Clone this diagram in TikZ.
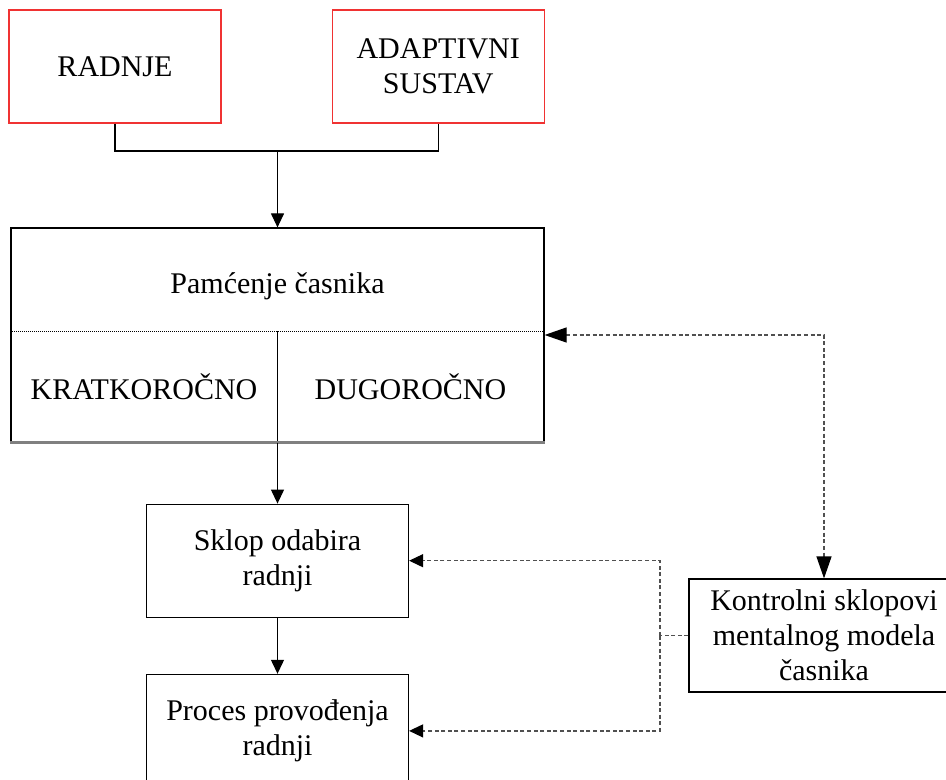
\documentclass[tikz,border=0pt]{standalone}
\usepackage{fontspec}
\setmainfont{Liberation Serif}
\usetikzlibrary{positioning,arrows.meta}
\definecolor{boxred}{RGB}{240,50,50}
\definecolor{linegray}{RGB}{80,80,80}

\begin{document}
\begin{tikzpicture}[x=0.5pt,y=-0.5pt,
    >={Triangle[length=7pt,width=6.5pt,color=black]},
    every node/.style={font=\fontsize{15}{17.5}\selectfont},
    block/.style={draw,line width=0.6pt,align=center,minimum height=56.5pt,inner sep=0pt},
    topblock/.style={block,draw=boxred,minimum width=106pt},
    link/.style={->,line width=0.6pt},
    ctrl/.style={line width=0.6pt,draw=linegray,dash pattern=on 2pt off 1.3pt},
    bigtip/.style={>={Triangle[length=11pt,width=7.5pt,color=black]}}]

	\useasboundingbox (0,0) rectangle (946,780);
	\clip (0,0) rectangle (946,780);

	% inputs
	\node[topblock] (radnje) at (115,66.5) {RADNJE};
	\node[topblock] (adapt) [right=55pt of radnje] {ADAPTIVNI\\SUSTAV};
	\coordinate (join) at (277.5,151);

	% memory
	\node[block,minimum width=266.5pt,minimum height=107pt] (mem) at (277.5,335) {};
	\node (memtitle) at (277.5,286) {Pamćenje časnika};
	\node (kratko) at (144,387) {KRATKOROČNO};
	\node (dugo) at (410.5,387) {DUGOROČNO};
	\coordinate (memsplit) at (277.5,331);

	% chain below
	\node[block,minimum width=131pt] (sklop) [below=30.5pt of mem] {Sklop odabira\\radnji};
	\node[block,minimum width=131pt] (proces) [below=28pt of sklop] {Proces provođenja\\radnji};
	\node[block,minimum width=135pt] (kontr) at (824,635.5) {Kontrolni sklopovi\\mentalnog modela\\časnika};
	\coordinate (fork) at (660,635.5);

	\draw[line width=0.6pt] (radnje.south) |- (join) -| (adapt.south);
	\draw[link] (join) -- (mem.north);

	\draw[line width=0.5pt,dash pattern=on 0.5pt off 0.5pt] (mem.west |- memsplit) -- (mem.east |- memsplit);
	\draw[line width=0.5pt] (memsplit) -- (mem.south);
	\draw[gray,line width=1.2pt] (mem.south west) -- (mem.south east);

	\draw[link] (mem.south) -- (sklop.north);
	\draw[link] (sklop) -- (proces);

	\draw[ctrl,bigtip,<->] (mem.east) -| (kontr.north);
	\draw[ctrl] (kontr.west) -- (fork);
	\draw[ctrl,->] (fork) |- (sklop.east);
	\draw[ctrl,->] (fork) |- (proces.east);
\end{tikzpicture}
\end{document}
